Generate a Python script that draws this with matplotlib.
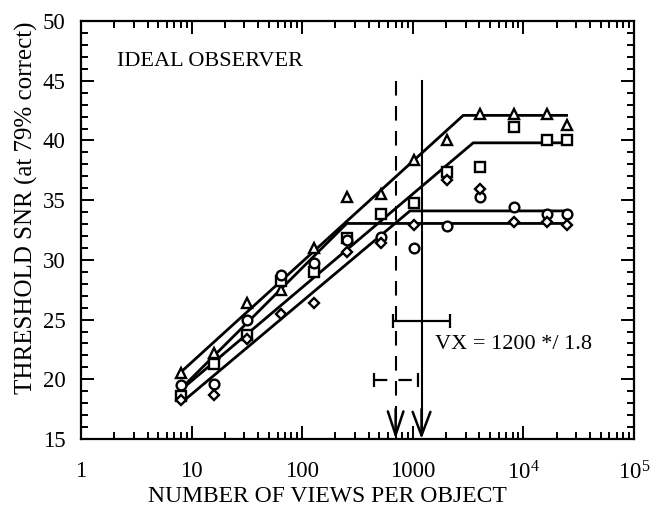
import numpy as np
import matplotlib.pyplot as plt
from matplotlib.ticker import LogLocator, MultipleLocator, NullFormatter, FixedFormatter, FixedLocator

plt.rcParams['font.family'] = ['Liberation Serif', 'DejaVu Serif']
plt.rcParams['mathtext.fontset'] = 'custom'
plt.rcParams['mathtext.rm'] = 'Liberation Serif'

# views per object (training set size)
views = [8, 16, 32, 64, 128, 256, 512, 1024, 2048, 4096, 8192, 16384, 24576]

# threshold SNR for the four object sets
snr_tri = [20.5, 22.2, 26.4, 27.5, 31.0, 35.3, 35.5, 38.4, 40.0, 42.2, 42.2, 42.2, 41.3]
snr_sq = [18.6, 21.3, 23.7, 28.2, 29.0, 31.8, 33.8, 34.8, 37.4, 37.8, 41.1, 40.0, 40.0]
snr_circ = [19.5, 19.6, 25.0, 28.7, 29.7, 31.7, 31.9, 31.0, 32.8, 35.3, 34.4, 33.8, 33.8]
snr_dia = [18.3, 18.7, 23.4, 25.5, 26.4, 30.7, 31.4, 32.9, 36.7, 35.9, 33.2, 33.2, 32.9]

# fitted curves: linear rise in log(views), then a plateau
fit_tri_x, fit_tri_y = [8, 2860, 24576], [20.6, 42.1, 42.1]
fit_sq_x, fit_sq_y = [8, 3520, 24576], [19.1, 39.8, 39.8]
fit_circ_x, fit_circ_y = [8, 943, 24576], [18.0, 34.1, 34.1]
fit_dia_x, fit_dia_y = [8, 253, 24576], [19.2, 33.05, 33.05]

# critical number of views, with */ error factors
vx_solid, vx_solid_factor, vx_solid_bar_y = 1200, 1.8, 24.9
vx_dash, vx_dash_factor, vx_dash_bar_y = 700, 1.58, 19.9
vline_top = 45.0

x_ticks = [1, 10, 100, 1000, 1e4, 1e5]
x_ticklabels = ['1', '10', '100', '1000', r'$\mathregular{10^4}$', r'$\mathregular{10^5}$']

fig = plt.figure(figsize=(6.66, 5.08), dpi=100)
ax = fig.add_axes([0.1216, 0.1358, 0.8303, 0.8228])

for fx, fy in [(fit_tri_x, fit_tri_y), (fit_sq_x, fit_sq_y),
               (fit_circ_x, fit_circ_y), (fit_dia_x, fit_dia_y)]:
    ax.plot(fx, fy, color='black', lw=2.0, solid_joinstyle='round', zorder=2)

mk = dict(linestyle='none', mfc='white', mec='black', mew=1.7, zorder=3)
ax.plot(views, snr_tri, marker='^', ms=7.5, **mk)
ax.plot(views, snr_sq, marker='s', ms=6.5, **mk)
ax.plot(views, snr_circ, marker='o', ms=7, **mk)
ax.plot(views, snr_dia, marker='D', ms=5, **mk)

# vertical markers with arrow heads down to the axis
ax.plot([vx_dash, vx_dash], [vline_top, 15.6], color='black', lw=1.5,
        dashes=(7, 5), zorder=2)
ax.plot([vx_solid, vx_solid], [vline_top, 15.6], color='black', lw=1.5, zorder=2)
for xv, w in [(vx_dash, 0.28), (vx_solid, 0.32)]:
    ax.annotate('', xy=(xv, 15), xytext=(xv, 17.5),
                arrowprops=dict(arrowstyle='->, head_length=0.85, head_width=%s' % w,
                                lw=1.8, color='black', mutation_scale=20,
                                shrinkA=0, shrinkB=0))

# error bars on the critical values
ax.errorbar([vx_solid], [vx_solid_bar_y],
            xerr=[[vx_solid - vx_solid / vx_solid_factor], [vx_solid * vx_solid_factor - vx_solid]],
            fmt='none', ecolor='black', elinewidth=1.6, capsize=5, capthick=1.6)
eb = ax.errorbar([vx_dash], [vx_dash_bar_y],
                 xerr=[[vx_dash - vx_dash / vx_dash_factor], [vx_dash * vx_dash_factor - vx_dash]],
                 fmt='none', ecolor='black', elinewidth=1.6, capsize=5, capthick=1.6)
eb[2][0].set_linestyle((0, (6, 5)))

ax.text(1600, 22.9, 'VX = 1200 */ 1.8', fontsize=16, va='center', ha='left')
ax.text(2.1, 46.6, 'IDEAL OBSERVER', fontsize=16, va='center', ha='left')

ax.set_xscale('log')
ax.set_xlim(1, 1e5)
ax.set_ylim(15, 50)

ax.xaxis.set_major_locator(FixedLocator(x_ticks))
ax.xaxis.set_major_formatter(FixedFormatter(x_ticklabels))
ax.xaxis.set_minor_locator(LogLocator(base=10, subs=np.arange(2, 10), numticks=20))
ax.xaxis.set_minor_formatter(NullFormatter())
ax.yaxis.set_major_locator(MultipleLocator(5))
ax.yaxis.set_minor_locator(MultipleLocator(1))

ax.tick_params(which='both', direction='in', top=True, right=True, width=1.4, colors='black')
ax.tick_params(which='major', length=9.5, labelsize=16.5)
ax.tick_params(which='minor', length=5)
ax.tick_params(axis='x', which='major', pad=16)
ax.tick_params(axis='y', which='major', pad=11)
for s in ax.spines.values():
    s.set_linewidth(1.6)

ax.set_xlabel('NUMBER OF VIEWS PER OBJECT', fontsize=17)
ax.xaxis.set_label_coords(0.445, -0.112)
ax.set_ylabel('THRESHOLD SNR (at 79% correct)', fontsize=18, va='center')
ax.yaxis.set_label_coords(-0.098, 0.553)

fig.savefig('out.png', dpi=100)
